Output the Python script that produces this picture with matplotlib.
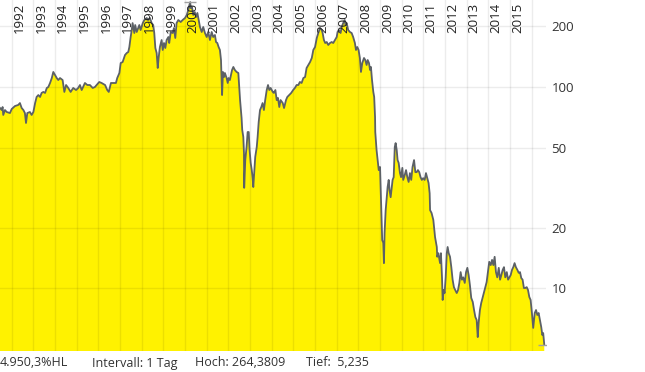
import matplotlib
matplotlib.use("Agg")
import matplotlib.pyplot as plt
from matplotlib.ticker import FixedLocator, NullLocator

plt.rcParams['font.family'] = ['Open Sans', 'DejaVu Sans']

# Daily close (fractional year, price), log scale
years = [
    1991.46, 1991.54, 1991.58, 1991.61, 1991.69, 1991.77, 1991.92, 1992.00, 1992.15, 1992.30,
    1992.38, 1992.46, 1992.54, 1992.61, 1992.66, 1992.72, 1992.84, 1992.92, 1993.00, 1993.08,
    1993.15, 1993.23, 1993.31, 1993.38, 1993.46, 1993.54, 1993.62, 1993.69, 1993.77, 1993.85,
    1993.92, 1994.00, 1994.08, 1994.15, 1994.23, 1994.35, 1994.43, 1994.51, 1994.61, 1994.72,
    1994.84, 1994.97, 1995.07, 1995.15, 1995.23, 1995.38, 1995.49, 1995.61, 1995.74, 1995.84,
    1995.92, 1996.04,
    1996.15, 1996.31, 1996.41, 1996.48, 1996.58, 1996.69, 1996.81, 1996.87, 1996.97, 1997.03,
    1997.12, 1997.23, 1997.31, 1997.38, 1997.43, 1997.49, 1997.54, 1997.58, 1997.61, 1997.66,
    1997.70, 1997.77, 1997.84, 1997.89, 1997.95, 1998.05, 1998.12, 1998.23, 1998.30, 1998.38,
    1998.46, 1998.53, 1998.58, 1998.63, 1998.69, 1998.74, 1998.78, 1998.84, 1998.92, 1998.97,
    1999.03, 1999.09, 1999.15, 1999.23, 1999.27, 1999.34, 1999.43, 1999.49, 1999.55, 1999.61,
    1999.69, 1999.80, 1999.89, 2000.00, 2000.08, 2000.15, 2000.20, 2000.24, 2000.26, 2000.32,
    2000.38, 2000.45, 2000.51, 2000.57, 2000.63, 2000.69, 2000.77, 2000.84, 2000.92, 2001.00,
    2001.07, 2001.15, 2001.23, 2001.30, 2001.38, 2001.43, 2001.49, 2001.55, 2001.61, 2001.66,
    2001.71,
    2001.75, 2001.80, 2001.84, 2001.92, 2001.97, 2002.01, 2002.07, 2002.12, 2002.17, 2002.23,
    2002.30, 2002.38, 2002.46, 2002.50, 2002.54, 2002.58, 2002.61, 2002.64, 2002.69, 2002.72,
    2002.73, 2002.78, 2002.84, 2002.89, 2002.94, 2002.98, 2003.03, 2003.08, 2003.12, 2003.15,
    2003.20, 2003.24, 2003.31, 2003.35, 2003.40, 2003.46, 2003.52, 2003.58, 2003.64, 2003.70,
    2003.77, 2003.83, 2003.89, 2003.95, 2004.05, 2004.10, 2004.17, 2004.23, 2004.29, 2004.35,
    2004.41, 2004.51, 2004.57, 2004.66, 2004.72, 2004.81,
    2004.90, 2004.99, 2005.07, 2005.15, 2005.23, 2005.30, 2005.38, 2005.46, 2005.54, 2005.61,
    2005.69, 2005.77, 2005.85, 2005.92, 2006.00, 2006.08, 2006.15, 2006.23, 2006.31, 2006.35,
    2006.41, 2006.47, 2006.54, 2006.61, 2006.69, 2006.77, 2006.84, 2006.92, 2007.00, 2007.04,
    2007.10, 2007.18, 2007.23, 2007.30, 2007.37, 2007.41, 2007.46, 2007.53, 2007.61, 2007.69,
    2007.76, 2007.84, 2007.89, 2007.95, 2008.01, 2008.07, 2008.12, 2008.18, 2008.26, 2008.32,
    2008.38, 2008.43, 2008.49, 2008.54, 2008.58, 2008.63, 2008.69, 2008.73, 2008.77,
    2008.78, 2008.84, 2008.89, 2008.94, 2009.00, 2009.03, 2009.08, 2009.10, 2009.15, 2009.18,
    2009.21, 2009.26, 2009.31, 2009.35, 2009.40, 2009.44, 2009.49, 2009.54, 2009.58, 2009.63,
    2009.68, 2009.72, 2009.77, 2009.81, 2009.86, 2009.92, 2009.97, 2010.03, 2010.07, 2010.14,
    2010.20, 2010.26, 2010.32, 2010.38, 2010.44, 2010.50, 2010.57, 2010.63, 2010.69, 2010.75,
    2010.81, 2010.87, 2010.93, 2010.99, 2011.06, 2011.12, 2011.18, 2011.24, 2011.29,
    2011.31, 2011.38, 2011.46, 2011.54, 2011.62, 2011.64, 2011.69, 2011.77, 2011.81, 2011.86,
    2011.89, 2011.94, 2011.98, 2012.03, 2012.08, 2012.12, 2012.17, 2012.23, 2012.29, 2012.35,
    2012.41, 2012.47, 2012.54, 2012.60, 2012.66, 2012.72, 2012.78, 2012.84, 2012.91, 2012.97,
    2013.03, 2013.09, 2013.15, 2013.21, 2013.28, 2013.34, 2013.40, 2013.46, 2013.51, 2013.55,
    2013.61, 2013.67, 2013.74, 2013.80, 2013.86, 2013.92, 2013.98, 2014.04, 2014.11, 2014.17,
    2014.23, 2014.29, 2014.35, 2014.41, 2014.48, 2014.54, 2014.60, 2014.66, 2014.72, 2014.78,
    2014.85, 2014.91, 2014.97, 2015.03, 2015.09, 2015.15, 2015.21, 2015.27, 2015.34, 2015.40,
    2015.46, 2015.52, 2015.58, 2015.64, 2015.70, 2015.77, 2015.83, 2015.89, 2015.95, 2016.01,
    2016.07, 2016.14, 2016.20, 2016.26, 2016.32, 2016.38, 2016.44, 2016.49, 2016.53, 2016.58,
]
close = [
    78.6, 76.8, 79.5, 72.6, 76.8, 75.1, 74.2, 77.7, 80.4, 81.4,
    83.2, 78.6, 76.8, 74.2, 66.2, 74.2, 75.1, 72.6, 75.1, 83.2,
    89.2, 91.2, 89.2, 93.4, 94.5, 93.4, 98.9, 100, 104.7, 110.8,
    118.8, 114.7, 110.8, 108.3, 110.8, 108.3, 94.5, 102.3, 98.9, 94.5,
    98.9, 96.6, 98.9, 102.3, 96.6, 104.7, 102.3, 102.3, 98.9, 100,
    102.3, 105.9,
    104.7, 102.3, 96.6, 94.5, 104.7, 104.7, 104.7, 110.8, 117.4, 131.6,
    133.1, 144.3, 147.6, 149.3, 158.1, 177.3, 192.1, 208, 198.8, 185.6,
    203.4, 187.8, 196.5, 203.4, 192.1, 208, 215.4, 220.5, 215.4, 220.5,
    208, 203.4, 185.6, 156.3, 147.6, 124.3, 139.4, 158.1, 171.3, 152.8,
    165.5, 156.3, 171.3, 177.3, 165.5, 187.8, 185.6, 196.5, 175.3, 208,
    215.4, 210.5, 215.4, 220.5, 228.2, 241.6, 255.6, 264.38, 247, 250,
    228.2, 236, 223, 233.5, 215.4, 198.8, 187.8, 198.8, 185.6, 177.3,
    187.8, 171.3, 187.8, 177.3, 181.4, 167.4, 165.5, 158.1, 152.8, 136.2,
    91.2,
    118.8, 112.1, 117.4, 110.8, 104.7, 110.8, 108.3, 114.7, 121.5, 125.8,
    121.5, 118.8, 117.4, 100, 86.1, 76.8, 70.1, 61.1, 56.4, 47.0,
    31.5, 43.3, 50.3, 59.7, 59.7, 48.6, 41.9, 38.6, 35.2, 31.8,
    38.6, 44.9, 50.3, 56.4, 67.0, 76.8, 79.5, 83.2, 76.8, 86.1,
    96.6, 102.3, 96.6, 98.9, 94.5, 93.4, 96.6, 86.1, 88.2, 79.5,
    86.1, 83.2, 78.6, 86.1, 89.2, 91.2,
    93.4, 96.6, 98.9, 102.3, 102.3, 105.9, 104.7, 110.8, 112.1, 124.3,
    128.7, 133.1, 139.4, 152.8, 158.1, 175.3, 185.6, 196.5, 192.1, 185.6,
    171.3, 165.5, 167.4, 161.8, 165.5, 167.4, 165.5, 171.3, 177.3, 187.8,
    192.1, 185.6, 198.8, 208, 215.4, 203.4, 208, 192.1, 187.8, 185.6,
    177.3, 165.5, 152.8, 158.1, 152.8, 139.4, 118.8, 131.6, 139.4, 136.2,
    128.7, 136.2, 131.6, 121.5, 125.8, 108.3, 94.5, 89.2, 70.9,
    59.7, 48.6, 43.3, 38.6, 40.0, 30.7, 20.2, 17.3, 16.8, 13.3,
    18.8, 24.4, 28.3, 31.8, 34.5, 30.7, 28.3, 31.8, 34.5, 35.6,
    50.3, 52.6, 48.6, 43.3, 41.9, 37.3, 35.6, 39.6, 34.5, 36.5,
    38.6, 35.6, 33.7, 37.3, 34.5, 40.0, 43.3, 37.7, 37.7, 38.6,
    37.7, 35.6, 34.5, 35.2, 34.5, 37.3, 35.2, 33.3, 29.6,
    24.4, 23.6, 21.8, 17.9, 16.0, 14.3, 14.9, 13.3, 14.9, 11.3,
    8.72, 9.77, 9.44, 11.3, 14.9, 16.0, 14.9, 14.3, 12.7, 11.0,
    10.1, 9.77, 9.44, 9.77, 10.6, 12.0, 11.0, 11.3, 10.6, 12.0,
    12.6, 11.6, 10.3, 8.92, 8.52, 7.77, 7.17, 6.93, 5.70, 6.70,
    7.77, 8.42, 9.02, 9.55, 10.1, 10.7, 12.0, 13.5, 13.0, 13.8,
    13.0, 14.3, 12.0, 11.3, 12.6, 11.0, 11.6, 12.3, 12.7, 11.3,
    12.0, 11.0, 11.3, 11.6, 12.3, 12.7, 13.3, 12.7, 12.3, 11.9,
    12.0, 11.2, 11.0, 10.0, 10.0, 10.1, 9.77, 9.02, 8.72, 7.51,
    6.33, 7.51, 7.77, 7.34, 7.51, 6.93, 6.40, 5.84, 5.97, 5.235,
]

year_grid = list(range(1992, 2017))
year_labels = [str(y) for y in range(1992, 2016)]
price_ticks = [10, 20, 50, 100, 200]
price_labels = ['10', '20', '50', '100', '200']
footer = [('4.950,3%HL', 0.0), ('Intervall: 1 Tag', 92), ('Hoch: 264,3809', 195), ('Tief:  5,235', 306)]

W, H = 645, 372
fig = plt.figure(figsize=(W / 100, H / 100), dpi=100)
ax = fig.add_axes([0, 21 / H, 546 / W, 351 / H])

ax.fill_between(years, close, 1, color='#fff200', linewidth=0, zorder=1)
ax.plot(years, close, color='#5c6166', linewidth=1.3, zorder=3)

# high / low markers
hi = close.index(max(close))
lo = close.index(min(close))
ax.plot([years[hi], years[lo]], [close[hi], close[lo]], linestyle='none', marker='_',
        markersize=8, markeredgewidth=1, color='#a0a0a0', zorder=4)

ax.set_yscale('log')
ax.set_xlim(1991.46, 2016.66)
ax.set_ylim(4.86, 270.9)

ax.xaxis.set_major_locator(FixedLocator(year_grid))
ax.xaxis.set_minor_locator(NullLocator())
ax.tick_params(axis='x', length=0, labelbottom=False)
ax.yaxis.tick_right()
ax.yaxis.set_major_locator(FixedLocator(price_ticks))
ax.yaxis.set_minor_locator(NullLocator())
ax.set_yticklabels(price_labels)
ax.tick_params(axis='y', length=0, pad=4, labelsize=9.5, labelcolor='#333333')
ax.grid(True, color='black', alpha=0.075, linewidth=1.0)
ax.set_axisbelow(False)
for s in ax.spines.values():
    s.set_visible(False)

for lab in year_labels:
    ax.annotate(lab, xy=(int(lab), 1), xycoords=('data', 'axes fraction'),
                xytext=(1, -3), textcoords='offset pixels', rotation=90,
                ha='left', va='top', fontsize=9.5, color='#222222', zorder=5)

for text, xpx in footer:
    fig.text(xpx / W, 1 - 363 / H, text, ha='left', va='center', fontsize=9, color='#333333')

fig.savefig('out.png', dpi=100)
